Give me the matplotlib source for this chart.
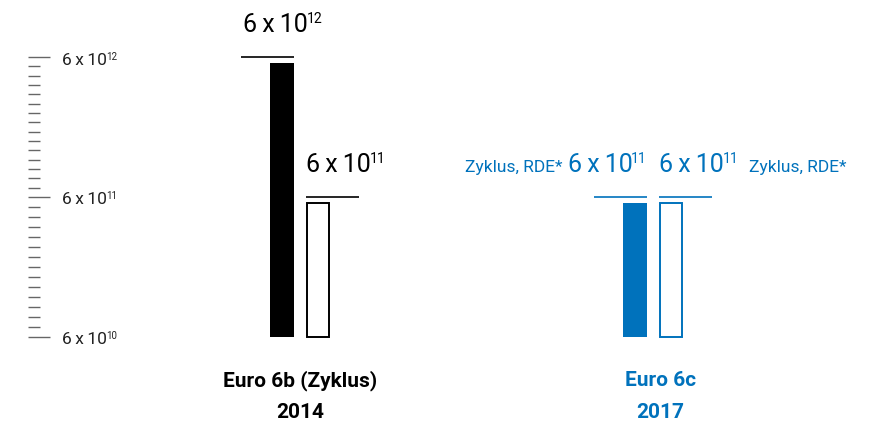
import numpy as np
import matplotlib
matplotlib.use("Agg")
from matplotlib import pyplot as plt
from matplotlib.ticker import FixedLocator, NullFormatter
from matplotlib.transforms import Affine2D

plt.rcParams["font.family"] = ["Roboto", "DejaVu Sans"]

# Particle number limits per km
GROUPS = ["Euro 6b (Zyklus)", "Euro 6c"]
YEARS = ["2014", "2017"]
CYCLE_LIMIT = [6e12, 6e11]
RDE_LIMIT = [6e11, 6e11]
SCALE_TICKS = [6e10, 6e11, 6e12]
NOTE = "Zyklus, RDE*"

BLUE = "#0072BC"
GROUP_COLORS = ["#000000", BLUE]

# layout, in figure pixels (x axis runs 0..872)
W, H = 872, 427
AX_BOTTOM, AX_TOP = 338, 58
FILLED_X = [282, 635]
OUTLINE_X = [318, 671]
GROUP_X = [300, 660]
BAR_W = 24
CAP_EXT = 29
GAP_PX = 6
MINOR_PER_DECADE = [14, 15]
THIN = "\u2009"


def sci_label(ax, x, value, size, color, dy, va="baseline", align="left"):
    exp = int(np.floor(np.log10(value)))
    mant = value / 10 ** exp
    base = ax.annotate(f"{mant:.0f}{THIN}x{THIN}10", xy=(x, value), xytext=(0, dy),
                       textcoords="offset pixels", fontsize=size, color=color,
                       ha="left", va=va, annotation_clip=False)
    sup = ax.annotate(str(exp), xy=(1, 1), xycoords=base, xytext=(-1, 1),
                      textcoords="offset pixels", fontsize=size * 0.56, color=color,
                      ha="left", va="top", annotation_clip=False)
    if align == "right":
        # shift the pair so the exponent ends at x
        r = ax.figure.canvas.get_renderer()
        total = sup.get_window_extent(r).x1 - base.get_window_extent(r).x0
        base.set_position((-total, dy))
    return base, sup


def shorten_top(ax, rects, gap):
    # pull each bar's top edge a few pixels below its limit line
    for r in rects:
        y0 = ax.transData.transform((0, r.get_y()))[1]
        y1 = ax.transData.transform((0, r.get_y() + r.get_height()))[1]
        k = (y1 - y0 - gap) / (y1 - y0)
        r.set_transform(ax.transData + Affine2D().translate(0, -y0).scale(1, k).translate(0, y0))


fig = plt.figure(figsize=(W / 100, H / 100), dpi=100, facecolor="white")
ax = fig.add_axes([0, 1 - AX_BOTTOM / H, 1, (AX_BOTTOM - AX_TOP) / H])
ax.set_xlim(0, W)
ax.set_yscale("log")
floor, top = SCALE_TICKS[0], SCALE_TICKS[-1]
ax.set_ylim(floor, top)
ax.set_facecolor("none")
for s in ax.spines.values():
    s.set_visible(False)
ax.spines["left"].set_position(("data", 28))

# scale on the left: long ticks at the decades, short ones in between
minor = []
for (lo, hi), n in zip(zip(SCALE_TICKS[:-1], SCALE_TICKS[1:]), MINOR_PER_DECADE):
    step = np.log10(hi / lo) / n
    minor += [lo * 10 ** (k * step) for k in range(1, n)]
ax.yaxis.set_major_locator(FixedLocator(SCALE_TICKS))
ax.yaxis.set_minor_locator(FixedLocator(minor))
ax.yaxis.set_major_formatter(NullFormatter())
ax.yaxis.set_minor_formatter(NullFormatter())
ax.tick_params(axis="y", which="major", direction="in", length=15.8, width=1.0,
               color="#666666", labelleft=False)
ax.tick_params(axis="y", which="minor", direction="in", length=8.6, width=1.0,
               color="#666666", labelleft=False)
ax.tick_params(axis="x", bottom=False, labelbottom=False)

for v in SCALE_TICKS:
    sci_label(ax, 62, v, 12.5, "#222222", dy=-2, va="center")

for i, color in enumerate(GROUP_COLORS):
    filled = ax.bar(FILLED_X[i], CYCLE_LIMIT[i] - floor, bottom=floor, width=BAR_W,
                    color=color, linewidth=0, clip_on=False)
    outline = ax.bar(OUTLINE_X[i], RDE_LIMIT[i] - floor, bottom=floor, width=BAR_W - 2,
                     facecolor="white", edgecolor=color, linewidth=1.4, clip_on=False)
    shorten_top(ax, list(filled) + list(outline), GAP_PX)

    left = FILLED_X[i] - BAR_W / 2
    ax.hlines(CYCLE_LIMIT[i], left - CAP_EXT, left + BAR_W, color=color, lw=1.2,
              clip_on=False)
    left = OUTLINE_X[i] - BAR_W / 2
    ax.hlines(RDE_LIMIT[i], left, left + BAR_W + CAP_EXT, color=color, lw=1.2,
              clip_on=False)

    ax.annotate(GROUPS[i], xy=(GROUP_X[i], 0), xycoords=("data", "axes fraction"),
                xytext=(0, -43), textcoords="offset pixels", ha="center", va="center",
                fontsize=15, fontweight="bold", color=color, annotation_clip=False)
    ax.annotate(YEARS[i], xy=(GROUP_X[i], 0), xycoords=("data", "axes fraction"),
                xytext=(0, -75), textcoords="offset pixels", ha="center", va="center",
                fontsize=15, fontweight="bold", color=color, annotation_clip=False)

# Euro 6b: cycle limit over the black bar, RDE limit over the outline bar
sci_label(ax, FILLED_X[0] - BAR_W / 2 - CAP_EXT + 2, CYCLE_LIMIT[0], 18, "#000000", dy=26)
sci_label(ax, OUTLINE_X[0] - BAR_W / 2, RDE_LIMIT[0], 18, "#000000", dy=26)

# Euro 6c applies to both the cycle and the real driving test
b_left, _ = sci_label(ax, FILLED_X[1] + BAR_W / 2, CYCLE_LIMIT[1], 18, BLUE, dy=26,
                      align="right")
_, s_right = sci_label(ax, OUTLINE_X[1] - BAR_W / 2, RDE_LIMIT[1], 18, BLUE, dy=26)
ax.annotate(NOTE, xy=(0, CYCLE_LIMIT[1]), xycoords=(b_left, "data"), xytext=(-5, 26),
            textcoords="offset pixels", ha="right", va="baseline", fontsize=12.5,
            color=BLUE, annotation_clip=False)
ax.annotate(NOTE, xy=(1, RDE_LIMIT[1]), xycoords=(s_right, "data"), xytext=(10, 26),
            textcoords="offset pixels", ha="left", va="baseline", fontsize=12.5,
            color=BLUE, annotation_clip=False)

fig.savefig("out.png", dpi=100, facecolor="white")
